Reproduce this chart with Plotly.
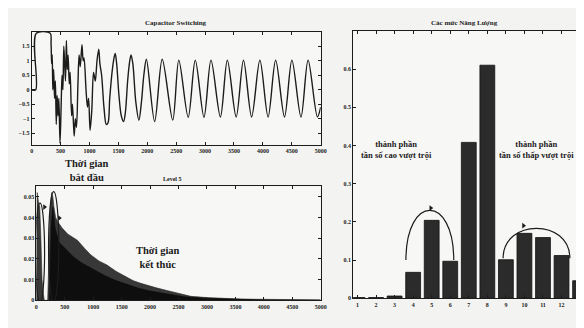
import plotly.graph_objects as go

# ---------------- data ----------------
# Top: Capacitor Switching (turning points)
sw_t = [0, 70, 80, 320, 335, 345, 355, 365, 380, 395, 410, 425, 440, 455, 470, 490, 510, 525, 540,
        555, 570, 585, 600, 615, 630, 650, 665, 690, 705, 735, 755, 775, 800, 820, 840, 870, 890,
        905, 940, 965, 985, 1010, 1040, 1070, 1100, 1130, 1160, 1180, 1210, 1250, 1290, 1320, 1350,
        1390, 1420, 1445, 1470, 1510, 1550, 1590, 1620, 1660, 1690, 1718, 1750, 1800, 1855, 1900,
        1940, 1985, 2127, 2258, 2440, 2545, 2708, 2830, 2981, 3102, 3265, 3385, 3538, 3664, 3805,
        3948, 4090, 4221, 4374, 4502, 4659, 4782, 4943, 5000]
sw_v = [0, 0, 1.95, 1.95, 1.6, 0.9, 1.2, 0.0, 0.7, -0.3, 0.3, -1.2, -0.2, -0.9, -0.3, -1.85, -0.5,
        0.5, 0.0, 1.5, 0.9, 0.3, 1.7, 0.7, 1.2, 0.2, 0.6, -0.9, -0.5, -1.6, -1.0, -1.3, 0.2, 1.2,
        0.8, 1.55, 1.0, 1.1, 0.0, -0.6, -0.3, -1.4, -0.7, 0.6, 0.3, 1.0, 1.4, 0.9, 0.5, -0.6, -1.2,
        -1.15, -0.3, 0.6, 1.05, 1.25, 0.9, -0.2, -0.9, -1.1, -0.8, 0.3, 0.9, 1.2, 0.9, -0.4, -1.05,
        -0.4, 0.5, 1.05, -1.1, 1.05, -1.05, 1.02, -0.95, 1.02, -0.95, 1.02, -0.94, 1.02, -0.94, 1.02,
        -0.94, 1.02, -0.94, 1.02, -0.94, 1.02, -0.94, 1.02, -0.94, -0.6]

# Bottom: Level 5 (envelopes)
lv_t_up = [0, 5, 15, 40, 60, 80, 100, 125, 140, 200, 225, 245, 270, 290, 310, 340, 375, 450, 550,
           650, 722, 850, 955, 1100, 1243, 1400, 1533, 1700, 1823, 2000, 2111, 2314, 2500, 2719,
           3009, 3298, 3600, 3877, 4300, 4700, 5000]
lv_v_up = [0, 0.05, 0.052, 0.047, 0.045, 0.03, 0.01, 0.003, 0, 0, 0.02, 0.045, 0.052, 0.05, 0.045,
           0.040, 0.038, 0.035, 0.032, 0.030, 0.029, 0.025, 0.022, 0.019, 0.017, 0.014, 0.012,
           0.0095, 0.0083, 0.0067, 0.006, 0.0046, 0.0033, 0.0019, 0.0013, 0.0008, 0.0006, 0.0005,
           0.0003, 0.0002, 0.0002]
lv_t_lo = [230, 260, 290, 330, 400, 500, 650, 800, 1000, 1200, 1400, 1600, 1800, 2000, 2300, 2600,
           3000, 3500, 4000, 5000]
lv_v_lo = [0, 0.035, 0.045, 0.035, 0.028, 0.025, 0.021, 0.018, 0.015, 0.012, 0.0095, 0.0075, 0.0058,
           0.0045, 0.003, 0.0017, 0.0009, 0.0004, 0.0002, 0.0001]

# Right: Các mức Năng Lượng
levels = list(range(1, 14))
energy = [0.002, 0.002, 0.006, 0.068, 0.204, 0.097, 0.408, 0.61, 0.101, 0.17, 0.159, 0.112, 0.046]

time_ticks = [0, 500, 1000, 1500, 2000, 2500, 3000, 3500, 4000, 4500, 5000]
sw_yticks = [-1.5, -1, -0.5, 0, 0.5, 1, 1.5]
lv_yticks = [0, 0.01, 0.02, 0.03, 0.04, 0.05]
en_yticks = [0, 0.1, 0.2, 0.3, 0.4, 0.5, 0.6]

# annotation geometry (data units)
ell1 = dict(x0=-15, x1=145, y0=-0.001, y1=0.047)
ell2 = dict(x0=215, x1=395, y0=-0.001, y1=0.0525)
arc1 = dict(cx=4.9, cy=0.10, rx=1.29, ry=0.13)
arc2 = dict(cx=10.65, cy=0.105, rx=1.8, ry=0.078)

# ---------------- figure ----------------
W, H = 584, 328
def px(x): return x / W
def py(y): return 1 - y / H

BG = "#f3f3f1"
INK = "#1c1c1c"
SERIF = "Liberation Serif, Times New Roman, serif"
tickfont = dict(family=SERIF, size=6, color=INK, weight="bold")

fig = go.Figure()

fig.add_trace(go.Scatter(x=sw_t, y=sw_v, mode="lines", line=dict(color=INK, width=1.4, shape="spline", smoothing=0.9),
                         xaxis="x", yaxis="y", showlegend=False))

fig.add_trace(go.Scatter(x=lv_t_up, y=lv_v_up, mode="lines", fill="tozeroy", fillcolor="#383838",
                         line=dict(color="#2a2a2a", width=0.6), xaxis="x2", yaxis="y2", showlegend=False))
fig.add_trace(go.Scatter(x=lv_t_lo, y=lv_v_lo, mode="lines", fill="tozeroy", fillcolor="#0e0e0e",
                         line=dict(color="#0e0e0e", width=0.6), xaxis="x2", yaxis="y2", showlegend=False))

fig.add_trace(go.Bar(x=levels, y=energy, width=0.8, marker=dict(color="#2b2b2b", line=dict(color="#111", width=0.8)),
                     xaxis="x3", yaxis="y3", showlegend=False))

# small flag markers
fig.add_trace(go.Scatter(x=[144, 404], y=[0.045, 0.0397], mode="markers",
                         marker=dict(symbol="triangle-right", size=5, color=INK), xaxis="x2", yaxis="y2", showlegend=False))
fig.add_trace(go.Scatter(x=[4.95, 9.95], y=[0.236, 0.19], mode="markers",
                         marker=dict(symbol="triangle-right", size=5, color=INK), xaxis="x3", yaxis="y3", showlegend=False))

axis_common = dict(showline=True, linecolor=INK, linewidth=1, mirror="ticks", ticks="inside", ticklen=3,
                   tickcolor=INK, showgrid=False, zeroline=False, tickfont=tickfont)

fig.update_layout(
    width=W, height=H, margin=dict(l=0, r=0, t=0, b=0),
    paper_bgcolor=BG, plot_bgcolor="#f7f7f5",
    xaxis=dict(domain=[px(22), px(315)], range=[0, 5000], tickvals=time_ticks, anchor="y", **axis_common),
    yaxis=dict(domain=[py(138), py(24)], range=[-1.9, 2.0], tickvals=sw_yticks, anchor="x", **axis_common),
    xaxis2=dict(domain=[px(26.7), px(315)], range=[0, 5000], tickvals=time_ticks, anchor="y2", **axis_common),
    yaxis2=dict(domain=[py(295), py(180)], range=[0, 0.055], tickvals=lv_yticks,
                ticktext=["0", "0.01", "0.02", "0.03", "0.04", "0.05"], anchor="x2", **axis_common),
    xaxis3=dict(domain=[px(348), px(578)], range=[0.77, 13.0], tickvals=levels, anchor="y3", **axis_common),
    yaxis3=dict(domain=[py(293), py(23)], range=[0, 0.7], tickvals=en_yticks, anchor="x3", **axis_common),
    bargap=0.2,
)

shapes = []
for e in (ell1, ell2):
    shapes.append(dict(type="circle", xref="x2", yref="y2", line=dict(color=INK, width=1.2), **e))
for a in (arc1, arc2):
    cx, cy, rx, ry = a["cx"], a["cy"], a["rx"], a["ry"]
    k = ry * 4 / 3
    path = f"M {cx-rx},{cy} C {cx-rx},{cy+k} {cx+rx},{cy+k} {cx+rx},{cy}"
    shapes.append(dict(type="path", xref="x3", yref="y3", path=path, line=dict(color=INK, width=1.2)))
fig.update_layout(shapes=shapes)

def ann(text, x, y, size, bold=False):
    return dict(text=text, x=px(x), y=py(y), xref="paper", yref="paper", showarrow=False,
                xanchor="center", yanchor="middle",
                font=dict(family=SERIF, size=size, color=INK, weight="bold" if bold else "normal"))

fig.update_layout(annotations=[
    ann("Capacitor Switching", 168, 15, 7, True),
    ann("Level 5", 165, 173, 6, True),
    ann("Các mức Năng Lượng", 461, 15, 7, True),
    ann("Thời gian<br>bắt đầu", 78, 164.5, 10.5, True),
    ann("Thời gian<br>kết thúc", 150, 251.5, 10.5, True),
    ann("thành phần<br>tần số cao vượt trội", 392, 142.5, 8.5, True),
    ann("thành phần<br>tần số thấp vượt trội", 534, 142.5, 8.5, True),
])

fig.write_html("out.html")
